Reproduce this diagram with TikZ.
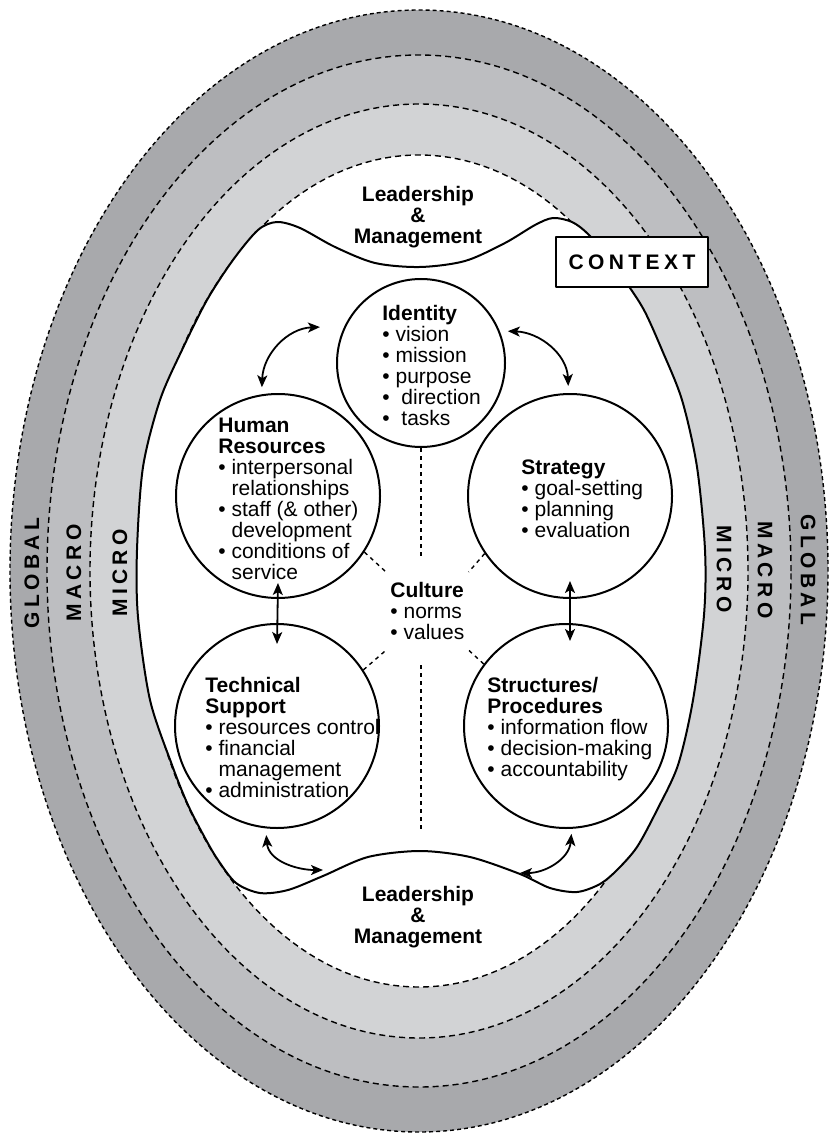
\documentclass[tikz,border=0pt]{standalone}
\usepackage{fontspec}
\setmainfont{Liberation Sans}
\newfontfamily\ringfont[LetterSpace=21]{Liberation Sans}
\usetikzlibrary{arrows.meta}
\definecolor{globalgray}{RGB}{168,169,172}
\definecolor{macrogray}{RGB}{189,190,193}
\definecolor{microgray}{RGB}{210,211,213}
\newcommand{\bul}{\textbullet\ }
\newcommand{\ind}{\phantom{\textbullet\ }}

\begin{document}
\begin{tikzpicture}[x=0.5pt,y=-0.5pt,line join=round,>={Stealth[length=6pt,width=5pt,inset=1.5pt]},
	font=\fontsize{10.5}{10.5}\selectfont,
	ring/.style={line width=0.7pt,dash pattern=on 3pt off 2pt},
	blob/.style={draw,line width=1pt,fill=white},
	area/.style={circle,draw,line width=1pt,fill=white,inner sep=0pt,minimum size=102pt},
	txt/.style={align=left,inner sep=0pt,anchor=north west},
	head/.style={align=center,inner sep=0pt,anchor=north,font=\fontsize{10.5}{10.5}\selectfont\bfseries},
	band/.style={inner sep=0pt,font=\ringfont\bfseries\fontsize{10.5}{12}\selectfont},
	link/.style={line width=0.7pt,dash pattern=on 2pt off 2pt},
	dbl/.style={<->,line width=0.9pt}]
	\useasboundingbox (0,0) rectangle (829,1138);
	% context rings
	\filldraw[fill=globalgray,ring,dash pattern=on 2pt off 1.5pt] (419,571) ellipse [x radius=204.5pt,y radius=280.5pt];
	\filldraw[fill=macrogray,ring] (419,571) ellipse [x radius=186pt,y radius=258pt];
	\filldraw[fill=microgray,ring] (419,571) ellipse [x radius=164.5pt,y radius=233.5pt];
	\filldraw[fill=white,ring] (419,571) ellipse [x radius=140pt,y radius=208pt];
	\node[band,rotate=90] (globalw) at (32,573) {GLOBAL};
	\node[band,rotate=90] (macrow) at (74,573) {MACRO};
	\node[band,rotate=90] (microw) at (120,573) {MICRO};
	\node[band,rotate=-90] (microe) at (724,569) {MICRO};
	\node[band,rotate=-90] (macroe) at (765,570) {MACRO};
	\node[band,rotate=-90] (globale) at (808,570) {GLOBAL};
	% organisation
	\draw[blob] plot[smooth cycle,tension=0.5] coordinates {(277,222) (300,228) (335,247) (375,263) (420,267) (465,261) (505,243) (535,225) (553,218) (572,222) (588,234) (608,258) (630,288) (645,312) (662,350) (682,400) (697,467) (705,550) (704,615) (693,700) (678,765) (657,810) (637,847) (617,870) (600,884) (577,892) (550,888) (520,874) (470,857) (420,851) (368,857) (323,876) (288,890) (260,893) (236,883) (218,860) (205,838) (188,805) (172,765) (150,700) (138,617) (137,550) (143,467) (160,400) (182,350) (207,300) (233,260) (258,230)};
	\node[band,draw,fill=white,line width=1pt,minimum width=76pt,minimum height=25pt] (context) at (632,262) {CONTEXT};
	\node[head] (lmtop) at (418,186) {Leadership\\\&\\Management};
	\node[head] (lmbottom) at (418,886) {Leadership\\\&\\Management};
	% the five areas
	\node[area,minimum size=84pt] (identity) at (421,363) {};
	\node[area] (hr) at (278,496) {};
	\node[area] (strategy) at (570,496) {};
	\node[area] (tech) at (277,726) {};
	\node[area] (structures) at (566,726) {};
	\node[txt] (identitytxt) at (382,305) {\textbf{Identity}\\\bul vision\\\bul mission\\\bul purpose\\\textbullet\ \ direction\\\textbullet\ \ tasks};
	\node[txt] (hrtxt) at (218,418) {\textbf{Human}\\\textbf{Resources}\\\bul interpersonal\\\ind relationships\\\bul staff (\& other)\\\ind development\\\bul conditions of\\\ind service};
	\node[txt] (strategytxt) at (521,459) {\textbf{Strategy}\\\bul goal-setting\\\bul planning\\\bul evaluation};
	\node[txt] (techtxt) at (205,677) {\textbf{Technical}\\\textbf{Support}\\\bul resources control\\\bul financial\\\ind management\\\bul administration};
	\node[txt] (structurestxt) at (487,677) {\textbf{Structures/}\\\textbf{Procedures}\\\bul information flow\\\bul decision-making\\\bul accountability};
	\node[txt,inner xsep=2pt,inner ysep=5pt] (culture) at (386,572) {\textbf{Culture}\\\bul norms\\\bul values};
	% culture links
	\draw[link,shorten >=7.5pt] (identity.south) -- (identity.south |- culture.north);
	\coordinate (cfoot) at (identity.south |- culture.south);
	\draw[link,shorten <=7.5pt] (cfoot) -- (identity.south |- tech.south);
	\draw[link] (hr.-33) -- (culture.north west);
	\draw[link] (strategy.214) -- (culture.north east);
	\draw[link] (tech.33) -- (culture.south west);
	\draw[link] (structures.143) -- (culture.south east);
	% interactions
	\draw[dbl] ([yshift=3.5pt]hr.99) to[out=88,in=182] ([xshift=-12pt]identity.155);
	\draw[dbl] ([xshift=4pt]identity.22) to[out=-2,in=92] ([yshift=3.5pt]strategy.91);
	\draw[dbl] ([yshift=8pt]hr.south) -- ([yshift=-10.5pt]tech.north);
	\coordinate (structtop) at (strategy.south |- structures.north);
	\draw[dbl] ([yshift=9pt]strategy.south) -- ([yshift=-9pt]structtop);
	\coordinate (lmwest) at (323,870);
	\coordinate (lmeast) at (520,873);
	\draw[dbl] ([yshift=-3.3pt]tech.264) to[out=-85,in=180] (lmwest);
	\draw[dbl] ([yshift=-2.5pt]structures.273) to[out=-95,in=0] (lmeast);
\end{tikzpicture}
\end{document}
